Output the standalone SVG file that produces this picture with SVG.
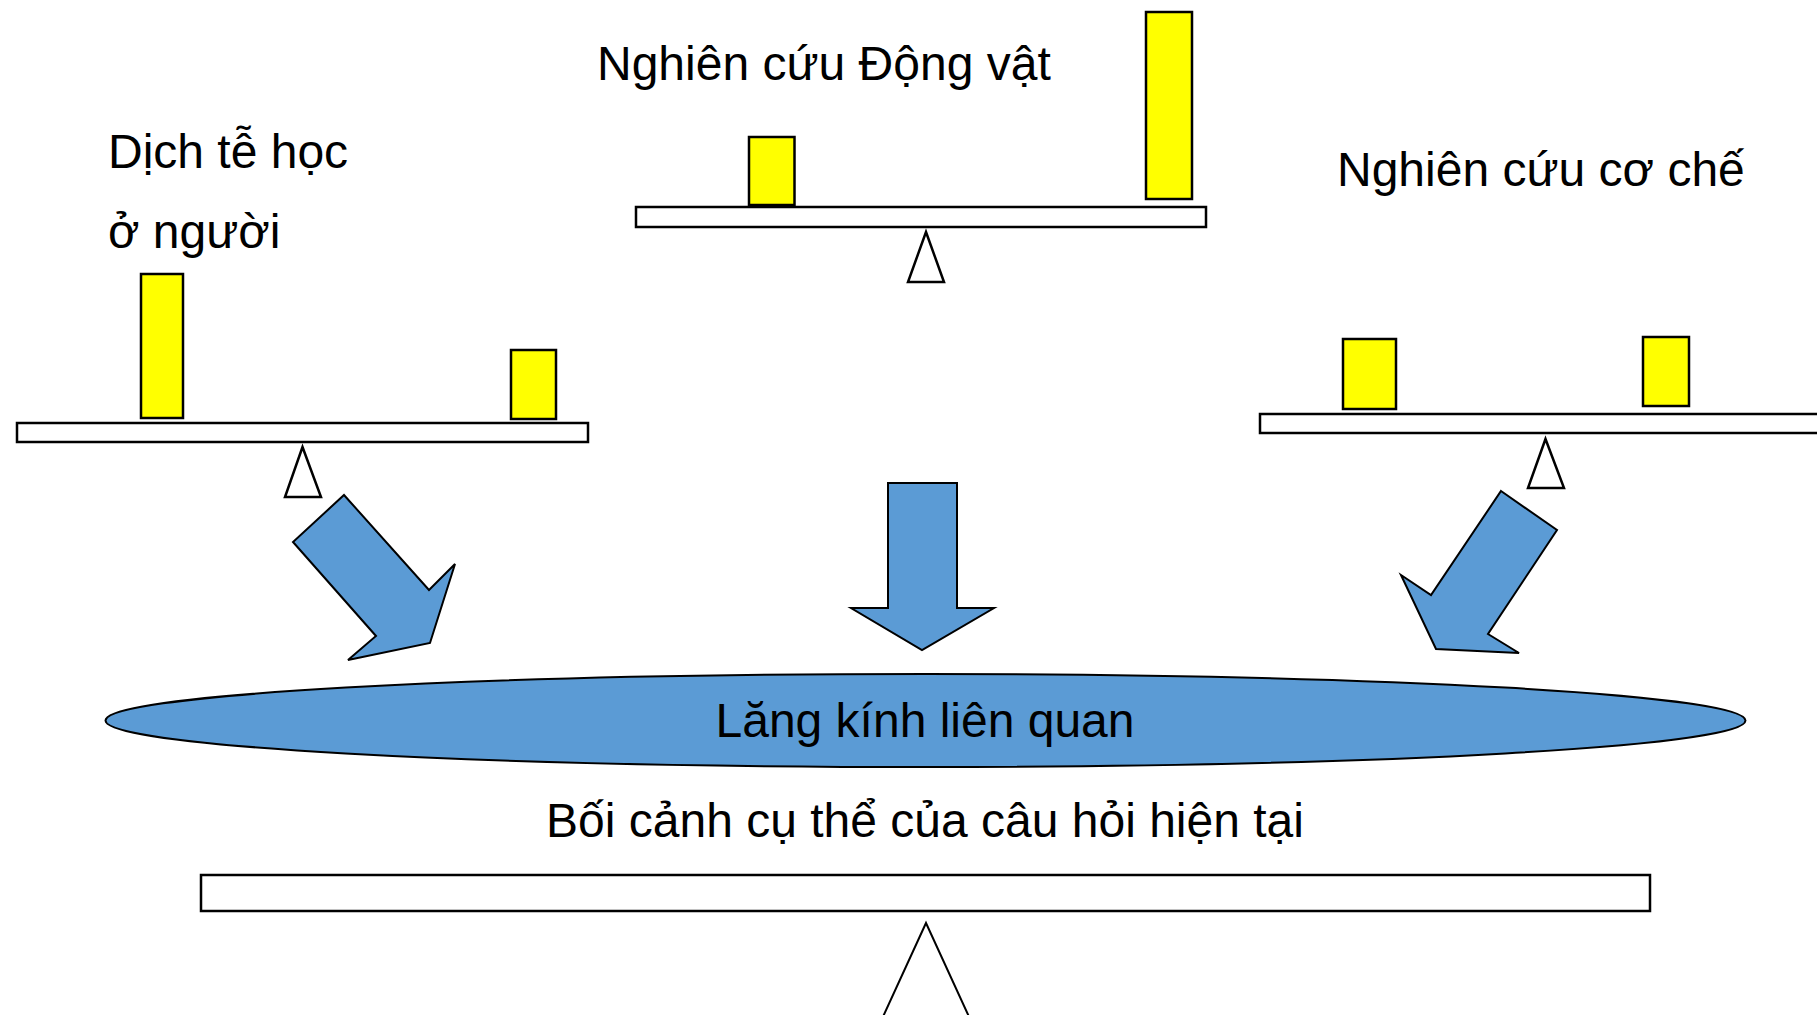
<svg xmlns="http://www.w3.org/2000/svg" width="1817" height="1015" viewBox="0 0 1817 1015">
  <style>
    .lbl { font-family: "Liberation Sans", Arial, sans-serif; font-size: 48px; fill: #000; }
    .beam { fill: #fff; stroke: #000; stroke-width: 2.5; }
    .weight { fill: #ffff00; stroke: #000; stroke-width: 2.5; }
    .pivot { fill: #fff; stroke: #000; stroke-width: 2.5; stroke-linejoin: miter; }
    .flow { fill: #5b9bd5; stroke: #000; stroke-width: 2; stroke-linejoin: miter; }
  </style>
  <rect width="1817" height="1015" fill="#fff"/>

  <!-- Balance: human epidemiology -->
  <g id="scale-epidemiology">
    <text class="lbl" x="108" y="168">Dịch tễ học</text>
    <text class="lbl" x="108" y="248">ở người</text>
    <rect class="weight" x="141" y="274" width="42" height="144"/>
    <rect class="weight" x="511" y="350" width="45" height="69"/>
    <rect class="beam" x="17" y="423" width="571" height="19"/>
    <polygon class="pivot" points="302.5,447 321,497 285,497"/>
  </g>

  <!-- Balance: animal studies -->
  <g id="scale-animal">
    <text class="lbl" x="597" y="80">Nghiên cứu Động vật</text>
    <rect class="weight" x="749" y="137" width="45.5" height="68"/>
    <rect class="weight" x="1146" y="12" width="46" height="187"/>
    <rect class="beam" x="636" y="207" width="570" height="20"/>
    <polygon class="pivot" points="926,232 944,282 908,282"/>
  </g>

  <!-- Balance: mechanistic studies -->
  <g id="scale-mechanism">
    <text class="lbl" x="1337" y="186">Nghiên cứu cơ chế</text>
    <rect class="weight" x="1343" y="339" width="53" height="70"/>
    <rect class="weight" x="1643" y="337" width="46" height="69"/>
    <rect class="beam" x="1260" y="414" width="580" height="19"/>
    <polygon class="pivot" points="1545.5,439 1564,488 1528,488"/>
  </g>

  <!-- Block arrows feeding the lens -->
  <g id="connectors">
    <polygon class="flow" points="344,495 429,590 455,564 430,643 348,660 376,636 293,542"/>
    <polygon class="flow" points="888,483 957,483 957,608 994,608 922,650 851,608 888,608"/>
    <polygon class="flow" points="1501,491 1557,530 1488,634 1519,653 1436,649 1401,575 1431,595"/>
  </g>

  <!-- Relevance lens -->
  <g id="lens">
    <ellipse class="flow" cx="925.5" cy="720.5" rx="820" ry="46.5"/>
    <text class="lbl" x="925" y="737" text-anchor="middle">Lăng kính liên quan</text>
  </g>

  <!-- Balance: context of the current question -->
  <g id="scale-context">
    <text class="lbl" x="925" y="837" text-anchor="middle">Bối cảnh cụ thể của câu hỏi hiện tại</text>
    <rect class="beam" x="201" y="875" width="1449" height="36"/>
    <polygon fill="#fff" stroke="#000" stroke-width="2" points="926,923 976,1032 876,1032"/>
  </g>
</svg>
